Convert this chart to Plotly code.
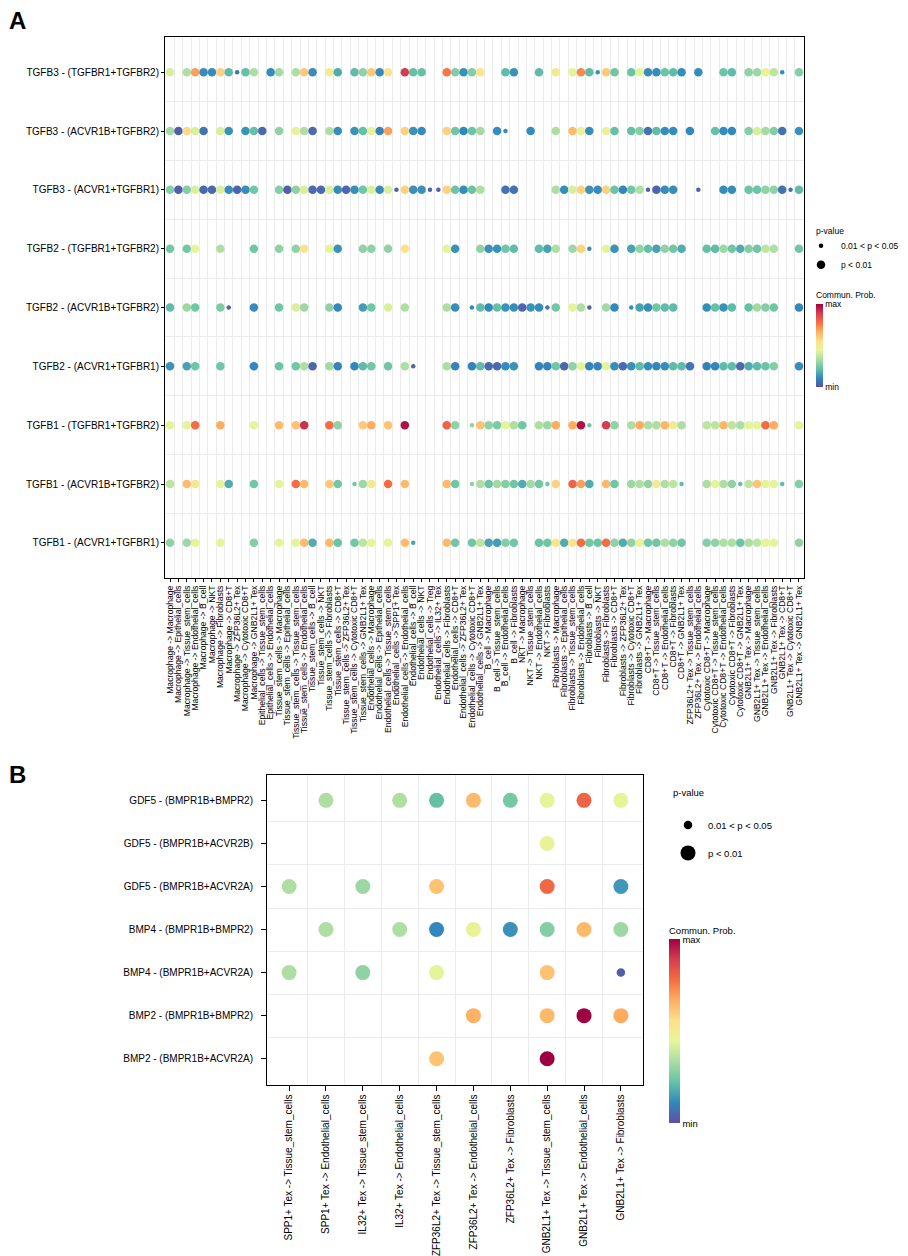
import plotly.graph_objects as go

_ = None

# ---- panel A : TGF-beta signalling ----
a_pairs = [
    'Macrophage -> Macrophage', 'Macrophage -> Epithelial_cells', 'Macrophage -> Tissue_stem_cells',
    'Macrophage -> Endothelial_cells', 'Macrophage -> B_cell', 'Macrophage -> NKT',
    'Macrophage -> Fibroblasts', 'Macrophage -> CD8+T', 'Macrophage -> ZFP36L2+ Tex',
    'Macrophage -> Cytotoxic CD8+T', 'Macrophage -> GNB2L1+ Tex', 'Epithelial_cells -> Tissue_stem_cells',
    'Epithelial_cells -> Endothelial_cells', 'Tissue_stem_cells -> Macrophage', 'Tissue_stem_cells -> Epithelial_cells',
    'Tissue_stem_cells -> Tissue_stem_cells', 'Tissue_stem_cells -> Endothelial_cells', 'Tissue_stem_cells -> B_cell',
    'Tissue_stem_cells -> NKT', 'Tissue_stem_cells -> Fibroblasts', 'Tissue_stem_cells -> CD8+T',
    'Tissue_stem_cells -> ZFP36L2+ Tex', 'Tissue_stem_cells -> Cytotoxic CD8+T', 'Tissue_stem_cells -> GNB2L1+ Tex',
    'Endothelial_cells -> Macrophage', 'Endothelial_cells -> Epithelial_cells', 'Endothelial_cells -> Tissue_stem_cells',
    'Endothelial_cells -> SPP1+ Tex', 'Endothelial_cells -> Endothelial_cells', 'Endothelial_cells -> B_cell',
    'Endothelial_cells -> NKT', 'Endothelial_cells -> Treg', 'Endothelial_cells -> IL32+ Tex',
    'Endothelial_cells -> Fibroblasts', 'Endothelial_cells -> CD8+T', 'Endothelial_cells -> ZFP36L2+ Tex',
    'Endothelial_cells -> Cytotoxic CD8+T', 'Endothelial_cells -> GNB2L1+ Tex', 'B_cell -> Macrophage',
    'B_cell -> Tissue_stem_cells', 'B_cell -> Endothelial_cells', 'B_cell -> Fibroblasts',
    'NKT -> Macrophage', 'NKT -> Tissue_stem_cells', 'NKT -> Endothelial_cells',
    'NKT -> Fibroblasts', 'Fibroblasts -> Macrophage', 'Fibroblasts -> Epithelial_cells',
    'Fibroblasts -> Tissue_stem_cells', 'Fibroblasts -> Endothelial_cells', 'Fibroblasts -> B_cell',
    'Fibroblasts -> NKT', 'Fibroblasts -> Fibroblasts', 'Fibroblasts -> CD8+T',
    'Fibroblasts -> ZFP36L2+ Tex', 'Fibroblasts -> Cytotoxic CD8+T', 'Fibroblasts -> GNB2L1+ Tex',
    'CD8+T -> Macrophage', 'CD8+T -> Tissue_stem_cells', 'CD8+T -> Endothelial_cells',
    'CD8+T -> Fibroblasts', 'CD8+T -> GNB2L1+ Tex', 'ZFP36L2+ Tex -> Tissue_stem_cells',
    'ZFP36L2+ Tex -> Endothelial_cells', 'Cytotoxic CD8+T -> Macrophage', 'Cytotoxic CD8+T -> Tissue_stem_cells',
    'Cytotoxic CD8+T -> Endothelial_cells', 'Cytotoxic CD8+T -> Fibroblasts', 'Cytotoxic CD8+T -> GNB2L1+ Tex',
    'GNB2L1+ Tex -> Macrophage', 'GNB2L1+ Tex -> Tissue_stem_cells', 'GNB2L1+ Tex -> Endothelial_cells',
    'GNB2L1+ Tex -> Fibroblasts', 'GNB2L1+ Tex -> CD8+T', 'GNB2L1+ Tex -> Cytotoxic CD8+T',
    'GNB2L1+ Tex -> GNB2L1+ Tex',
]

a_rows = [
    'TGFB3 - (TGFBR1+TGFBR2)', 'TGFB3 - (ACVR1B+TGFBR2)', 'TGFB3 - (ACVR1+TGFBR1)',
    'TGFB2 - (TGFBR1+TGFBR2)', 'TGFB2 - (ACVR1B+TGFBR2)', 'TGFB2 - (ACVR1+TGFBR1)',
    'TGFB1 - (TGFBR1+TGFBR2)', 'TGFB1 - (ACVR1B+TGFBR2)', 'TGFB1 - (ACVR1+TGFBR1)',
]

# scaled communication probability (0 = min, 1 = max), one list per L-R pair
tgfb3_tgfbr1_tgfbr2 = [
    .42, _, .34, .69, .12, .12, .59, .21, .07, .22,
    .34, _, .12, .32, _, .34, .61, .12, _, .49,
    .18, _, .21, .29, .61, .12, .54, _, .89, .22,
    .22, _, _, .76, .27, .13, .27, .54, _, _,
    .21, .13, _, _, .21, _, .51, _, .44, .73,
    .21, .13, .61, .24, _, .23, .44, .12, .12, .23,
    .21, .12, _, .12, _, _, .23, .21, _, .29,
    .31, .46, .37, .12, _, .27]
tgfb3_acvr1b_tgfbr2 = [
    .32, .03, .57, .42, .07, _, .42, .13, _, .13,
    .22, .05, _, .29, _, .46, .34, .05, _, .34,
    .12, _, .13, .22, .46, .10, .69, _, .59, .13,
    .12, _, _, .59, .24, .11, .23, .32, _, .12,
    .12, _, _, .12, _, _, .34, _, .64, .46,
    .12, _, .46, .22, _, .22, .27, .07, .21, .12,
    .12, _, .11, _, _, .22, .12, .11, _, .27,
    .42, .32, .27, .07, _, .13]
tgfb3_acvr1_tgfbr1 = [
    .27, .03, .27, .42, .05, .05, .42, .12, .04, .12,
    .24, _, _, .27, .03, .29, .42, .05, .05, .42,
    .12, .04, .12, .24, .42, .12, .42, .04, .59, .13,
    .13, .04, .04, .59, .23, .12, .23, .34, _, _,
    .07, .07, _, _, _, _, .34, .12, .42, .59,
    .13, .12, .59, .23, .11, .24, .34, .04, .04, .12,
    .12, _, _, .04, _, _, .12, .12, _, .23,
    .23, .29, .29, .07, .07, .21]
tgfb2_tgfbr1_tgfbr2 = [
    .24, _, .24, .44, _, _, .34, _, _, _,
    .24, _, _, .29, _, .29, .54, _, _, .44,
    .13, _, _, .29, .29, _, .29, _, .56, _,
    _, _, _, .44, .13, _, _, .29, .13, .13,
    .24, .21, _, _, .21, .16, .34, _, .31, .59,
    .12, _, .44, .13, _, .16, .29, .22, .16, .29,
    .24, .18, _, _, .22, .21, .31, .24, .18, .27,
    .24, .37, .34, _, _, .24]
tgfb2_acvr1b_tgfbr2 = [
    .21, _, .31, .24, _, _, .26, .04, _, _,
    .12, _, _, .24, _, .42, .31, _, _, .29,
    .11, _, _, .15, .24, _, .42, _, .34, _,
    _, _, _, .34, .12, _, .11, .21, .11, .22,
    .13, .12, .04, .13, .12, .07, .24, _, .44, .34,
    .04, _, .32, .11, _, .12, .16, .12, .24, .21,
    .21, _, _, _, .12, .22, .13, .21, _, .22,
    .32, .27, .24, _, _, .11]
tgfb2_acvr1_tgfbr1 = [
    .13, _, .16, .24, _, _, .24, _, _, _,
    .11, _, _, .23, _, .24, .34, .04, _, .32,
    .10, _, .11, .21, .24, _, .24, _, .34, .04,
    _, _, _, .34, .10, _, .10, .21, .05, .05,
    .12, .13, _, _, .10, .10, .24, .04, .29, .44,
    .10, .10, .44, .12, .05, .13, .21, .12, .11, .12,
    .21, .21, .07, _, .10, .11, .21, .21, .05, .18,
    .21, .23, .27, _, _, .12]
tgfb1_tgfbr1_tgfbr2 = [
    .44, _, .44, .78, _, _, .67, _, _, _,
    .44, _, _, .64, _, .62, .91, _, _, .78,
    .29, _, _, .61, .67, _, .62, _, .97, _,
    _, _, _, .80, .29, _, .29, .62, .29, .26,
    .44, .34, .24, _, .34, .31, .67, _, .67, .97,
    .24, _, .89, .29, _, .34, .67, .34, .34, .65,
    .49, .34, _, _, .37, .37, .65, .37, .34, .44,
    .44, .78, .67, _, _, .44]
tgfb1_acvr1b_tgfbr2 = [
    .37, _, .64, .51, _, _, .44, .18, _, _,
    .24, _, _, .44, _, .78, .64, _, _, .61,
    .24, _, .24, .31, .51, _, .78, _, .64, _,
    _, _, _, .64, .24, _, .29, .34, .23, .32,
    .27, .24, .18, .32, .24, .24, .59, _, .80, .69,
    .18, _, .64, .24, _, .31, .34, .29, .49, .34,
    .37, .21, _, _, .34, .44, .34, .29, .22, .37,
    .62, .44, .44, .21, _, .27]
tgfb1_acvr1_tgfbr1 = [
    .29, _, .31, .44, _, _, .44, _, _, _,
    .27, _, _, .44, _, .44, .64, .18, _, .64,
    .23, _, .24, .37, .44, _, .44, _, .64, .16,
    _, _, _, .64, .24, _, .24, .37, .16, .15,
    .27, .24, _, _, .23, .24, .54, .18, .54, .78,
    .24, .23, .78, .29, .18, .29, .46, .24, .24, .34,
    .29, .24, _, _, .27, .29, .34, .34, .23, .34,
    .37, .44, .44, _, _, .29]

a_prob = [tgfb3_tgfbr1_tgfbr2, tgfb3_acvr1b_tgfbr2, tgfb3_acvr1_tgfbr1,
          tgfb2_tgfbr1_tgfbr2, tgfb2_acvr1b_tgfbr2, tgfb2_acvr1_tgfbr1,
          tgfb1_tgfbr1_tgfbr2, tgfb1_acvr1b_tgfbr2, tgfb1_acvr1_tgfbr1]

# pairs whose p-value is only 0.01 < p < 0.05 (row index -> pair indices)
a_weak = {0: [8, 51, 73], 1: [40], 2: [27, 31, 32, 57, 63, 74], 3: [50],
          4: [7, 36, 45, 50, 55], 5: [29], 6: [36, 50],
          7: [22, 36, 45, 61, 68, 73], 8: [29]}

# ---- panel B : BMP signalling ----
b_pairs = [
    'SPP1+ Tex -> Tissue_stem_cells', 'SPP1+ Tex -> Endothelial_cells',
    'IL32+ Tex -> Tissue_stem_cells', 'IL32+ Tex -> Endothelial_cells',
    'ZFP36L2+ Tex -> Tissue_stem_cells', 'ZFP36L2+ Tex -> Endothelial_cells',
    'ZFP36L2+ Tex -> Fibroblasts', 'GNB2L1+ Tex -> Tissue_stem_cells',
    'GNB2L1+ Tex -> Endothelial_cells', 'GNB2L1+ Tex -> Fibroblasts',
]
b_rows = [
    'GDF5 - (BMPR1B+BMPR2)', 'GDF5 - (BMPR1B+ACVR2B)', 'GDF5 - (BMPR1B+ACVR2A)',
    'BMP4 - (BMPR1B+BMPR2)', 'BMP4 - (BMPR1B+ACVR2A)',
    'BMP2 - (BMPR1B+BMPR2)', 'BMP2 - (BMPR1B+ACVR2A)',
]
gdf5_bmpr1b_bmpr2 = [_, .34, _, .34, .22, .64, .25, .44, .80, .44]
gdf5_bmpr1b_acvr2b = [_, _, _, _, _, _, _, .46, _, _]
gdf5_bmpr1b_acvr2a = [.34, _, .31, _, .62, _, _, .79, _, .14]
bmp4_bmpr1b_bmpr2 = [_, .34, _, .34, .11, .46, .13, .27, .64, .31]
bmp4_bmpr1b_acvr2a = [.34, _, .29, _, .44, _, _, .62, _, .03]
bmp2_bmpr1b_bmpr2 = [_, _, _, _, _, .66, _, .64, 1.0, .67]
bmp2_bmpr1b_acvr2a = [_, _, _, _, .62, _, _, 1.0, _, _]
b_prob = [gdf5_bmpr1b_bmpr2, gdf5_bmpr1b_acvr2b, gdf5_bmpr1b_acvr2a,
          bmp4_bmpr1b_bmpr2, bmp4_bmpr1b_acvr2a, bmp2_bmpr1b_bmpr2, bmp2_bmpr1b_acvr2a]
b_weak = {4: [9]}

# RColorBrewer Spectral (10), reversed: min = purple, max = dark red
spectral = ['#5E4FA2', '#3288BD', '#66C2A5', '#ABDDA4', '#E6F598',
            '#FEE08B', '#FDAE61', '#F46D43', '#D53E4F', '#9E0142']
cscale = [[i / 9, c] for i, c in enumerate(spectral)]

# page body has an 8px margin, so the figure is drawn 8px in from the window edge
OFF = 8
W, H = 908 - OFF, 1256 - OFF
FONT = 'Liberation Sans, Arial, sans-serif'


def px_x(v):
    return (v - OFF) / W


def px_y(v):
    return 1 - (v - OFF) / H


def points(prob, weak, big, small):
    xs, ys, cs, ss = [], [], [], []
    for r, row in enumerate(prob):
        for c, v in enumerate(row):
            if v is None:
                continue
            xs.append(c)
            ys.append(r)
            cs.append(v)
            ss.append(small if c in weak.get(r, []) else big)
    return xs, ys, cs, ss


def cbar(x, bottom, length, thick, fsize):
    return dict(x=px_x(x), xanchor='left', xpad=0, y=px_y(bottom), yanchor='bottom', ypad=0,
                len=length, lenmode='pixels', thickness=thick, outlinewidth=0,
                tickvals=[0, 1], ticktext=['min', 'max'], ticks='',
                tickfont=dict(size=fsize, family=FONT),
                title=dict(text='Commun. Prob.', side='top', font=dict(size=fsize, family=FONT)))


fig = go.Figure()

ax, ay, ac, asz = points(a_prob, a_weak, 8.5, 4.5)
fig.add_trace(go.Scatter(
    x=ax, y=ay, mode='markers', xaxis='x', yaxis='y', showlegend=False,
    marker=dict(size=asz, color=ac, colorscale=cscale, cmin=0, cmax=1, line=dict(width=0),
                opacity=1, colorbar=cbar(816, 388, 98, 7, 8.5))))

bx, by, bc, bsz = points(b_prob, b_weak, 15, 8.5)
fig.add_trace(go.Scatter(
    x=bx, y=by, mode='markers', xaxis='x2', yaxis='y2', showlegend=False,
    marker=dict(size=bsz, color=bc, colorscale=cscale, cmin=0, cmax=1, line=dict(width=0),
                opacity=1, colorbar=cbar(669, 1127, 200, 11, 9.5))))

# p-value legends
for name, s in [('0.01 < p < 0.05', 4.5), ('p < 0.01', 8.5)]:
    fig.add_trace(go.Scatter(x=[None], y=[None], mode='markers', name=name, legend='legend',
                             legendgroup='a' + name, marker=dict(size=s, color='black'),
                             xaxis='x', yaxis='y'))
for name, s in [('0.01 < p < 0.05', 8.5), ('p < 0.01', 15)]:
    fig.add_trace(go.Scatter(x=[None], y=[None], mode='markers', name=name, legend='legend2',
                             legendgroup='b' + name, marker=dict(size=s, color='black'),
                             xaxis='x2', yaxis='y2'))

axis_common = dict(showline=True, linecolor='black', linewidth=1, mirror=True,
                   ticks='outside', ticklen=3, tickcolor='black', showgrid=False,
                   zeroline=False, tickmode='array')


def between(n):
    return [i + 0.5 for i in range(n - 1)]


grid = dict(showgrid=True, gridcolor='#ebebeb', gridwidth=0.6, ticks='')

fig.update_layout(
    width=W, height=H, margin=dict(l=0, r=0, t=0, b=0),
    paper_bgcolor='white', plot_bgcolor='white',
    font=dict(family=FONT, color='black'),
    xaxis=dict(axis_common, domain=[px_x(165), px_x(804)], range=[-0.6, len(a_pairs) - 0.4],
               tickvals=list(range(len(a_pairs))), ticktext=a_pairs, tickangle=-90,
               tickfont=dict(size=8.6), anchor='y',
               minor=dict(grid, tickvals=between(len(a_pairs)))),
    yaxis=dict(axis_common, domain=[px_y(580), px_y(37)], range=[len(a_rows) - 0.4, -0.6],
               tickvals=list(range(len(a_rows))), ticktext=a_rows,
               tickfont=dict(size=10), anchor='x',
               minor=dict(grid, tickvals=between(len(a_rows)))),
    xaxis2=dict(axis_common, domain=[px_x(267), px_x(643)], range=[-0.6, len(b_pairs) - 0.4],
                tickvals=list(range(len(b_pairs))), ticktext=b_pairs, tickangle=-90,
                tickfont=dict(size=10), anchor='y2', ticklen=5,
                minor=dict(grid, tickvals=between(len(b_pairs)))),
    yaxis2=dict(axis_common, domain=[px_y(1088), px_y(777)], range=[len(b_rows) - 0.4, -0.6],
                tickvals=list(range(len(b_rows))), ticktext=b_rows, ticklen=5,
                tickfont=dict(size=10), anchor='x2', ticklabelstandoff=6,
                minor=dict(grid, tickvals=between(len(b_rows)))),
    legend=dict(x=px_x(801), y=px_y(232), xanchor='left', yanchor='top', itemsizing='trace',
                font=dict(size=8.5), bgcolor='rgba(0,0,0,0)', traceorder='grouped',
                tracegroupgap=0),
    legend2=dict(x=px_x(668), y=px_y(813), xanchor='left', yanchor='top', itemsizing='trace',
                 font=dict(size=9.5), bgcolor='rgba(0,0,0,0)', traceorder='grouped',
                 tracegroupgap=9),
    annotations=[
        dict(text='<b>A</b>', x=px_x(8), y=px_y(21), xref='paper', yref='paper', borderpad=0,
             xanchor='left', yanchor='middle', showarrow=False, font=dict(size=24, family=FONT)),
        dict(text='<b>B</b>', x=px_x(8), y=px_y(777), xref='paper', yref='paper', borderpad=0,
             xanchor='left', yanchor='middle', showarrow=False, font=dict(size=24, family=FONT)),
        dict(text='p-value', x=px_x(814), y=px_y(232), xref='paper', yref='paper',
             xanchor='left', yanchor='middle', showarrow=False, font=dict(size=8.5, family=FONT)),
        dict(text='p-value', x=px_x(671), y=px_y(795), xref='paper', yref='paper',
             xanchor='left', yanchor='middle', showarrow=False, font=dict(size=9.5, family=FONT)),
    ],
)

fig.write_html('out.html')
